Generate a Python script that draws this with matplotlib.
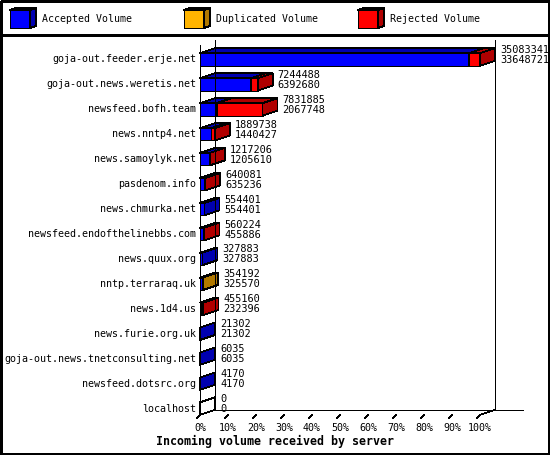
import matplotlib
matplotlib.use('Agg')
import matplotlib.pyplot as plt
from matplotlib.patches import Polygon, Rectangle

servers = ['goja-out.feeder.erje.net', 'goja-out.news.weretis.net', 'newsfeed.bofh.team',
           'news.nntp4.net', 'news.samoylyk.net', 'pasdenom.info', 'news.chmurka.net',
           'newsfeed.endofthelinebbs.com', 'news.quux.org', 'nntp.terraraq.uk', 'news.1d4.us',
           'news.furie.org.uk', 'goja-out.news.tnetconsulting.net', 'newsfeed.dotsrc.org', 'localhost']
offered = [35083341, 7244488, 7831885, 1889738, 1217206, 640081, 554401, 560224,
           327883, 354192, 455160, 21302, 6035, 4170, 0]
accepted = [33648721, 6392680, 2067748, 1440427, 1205610, 635236, 554401, 455886,
            327883, 325570, 232396, 21302, 6035, 4170, 0]
duplicated = [0, 0, 0, 0, 0, 0, 0, 0, 0, 28622, 0, 0, 0, 0, 0]
rejected = [o - a - d for o, a, d in zip(offered, accepted, duplicated)]

x_ticks = [0, 10, 20, 30, 40, 50, 60, 70, 80, 90, 100]
x_tick_labels = ['%d%%' % t for t in x_ticks]
legend_labels = ['Accepted Volume', 'Duplicated Volume', 'Rejected Volume']
x_title = 'Incoming volume received by server'

FRONT = ['#0000ff', '#ffb400', '#ff0000']
SIDE = ['#0000b0', '#b07800', '#b00000']

W, H = 550, 455
PX_PCT = 2.8      # pixels per percent
X0 = 200          # pixel x of 0%
PX_ROW = 24.93    # pixels per row
Y0 = 59.5         # pixel y of first row centre
DX = 15 / PX_PCT
DY = -5 / PX_ROW
HALF = 6.2 / PX_ROW
FONT = 'DejaVu Sans Mono'
LW = 0.5


def box(ax, x0, x1, y0, y1, dx, dy, face, side):
    front = [(x0, y1), (x0, y0), (x1, y0), (x1, y1)]
    top = [(x0, y0), (x0 + dx, y0 + dy), (x1 + dx, y0 + dy), (x1, y0)]
    right = [(x1, y0), (x1 + dx, y0 + dy), (x1 + dx, y1 + dy), (x1, y1)]
    for pts, c in ((front, face), (top, side), (right, side)):
        ax.add_patch(Polygon(pts, closed=True, fc=c, ec='black', lw=LW,
                             antialiased=False))


fig = plt.figure(figsize=(W / 100, H / 100), dpi=100)
fig.patch.set_facecolor('white')

ax = fig.add_axes([0, 0, 1, 1])
ax.set_xlim(-X0 / PX_PCT, (W - X0) / PX_PCT)
ax.set_ylim((H - Y0) / PX_ROW, -Y0 / PX_ROW)
ax.axis('off')

n = len(servers)
y_top = (45 - Y0) / PX_ROW
y_bot = (n - 1) + HALF
kw = dict(color='black', lw=LW, antialiased=False)
ax.plot([0, 0], [y_top, y_bot], **kw)
ax.plot([DX, DX], [y_top + DY, y_bot + DY], **kw)
ax.plot([100 + DX, 100 + DX], [y_top + DY, y_bot + DY], **kw)
ax.plot([DX, (523 - X0) / PX_PCT], [y_bot + DY, y_bot + DY], **kw)
ax.plot([0, DX], [y_bot, y_bot + DY], **kw)
ax.plot([100, 100 + DX], [y_bot, y_bot + DY], **kw)
for t, lab in zip(x_ticks, x_tick_labels):
    ax.plot([t - 3 / PX_PCT, t], [y_bot + 3 / PX_ROW, y_bot], **kw)
    ax.text(t, (428 - Y0) / PX_ROW, lab, ha='center', va='center',
            family=FONT, fontsize=7.2)

total_max = max(offered)
for i, name in enumerate(servers):
    ax.text(-4 / PX_PCT, i, name, ha='right', va='center', family=FONT, fontsize=7.2)
    start = 0.0
    drawn = False
    for k, vals in enumerate((accepted, duplicated, rejected)):
        v = vals[i] / total_max * 100
        if vals[i] > 0:
            box(ax, start, start + v, i - HALF, i + HALF, DX, DY, FRONT[k], SIDE[k])
            drawn = True
        start += v
    if not drawn:
        box(ax, 0, 0, i - HALF, i + HALF, DX, DY, 'white', 'white')
    tx = start + DX + 5 / PX_PCT
    ax.text(tx, i - 9.5 / PX_ROW, str(offered[i]), ha='left', va='center',
            family=FONT, fontsize=7.4)
    ax.text(tx, i + 0.5 / PX_ROW, str(accepted[i]), ha='left', va='center',
            family=FONT, fontsize=7.4)

# legend strip, frame and title in pixel space
lg = fig.add_axes([0, 0, 1, 1], facecolor='none')
lg.set_xlim(0, W)
lg.set_ylim(H, 0)
lg.axis('off')
lg.add_patch(Rectangle((0.5, 0.5), W - 1.5, H - 1.5, fill=False, ec='black', lw=1.0,
                       antialiased=False))
lg.plot([0, W], [35, 35], color='black', lw=1.0, antialiased=False)
for bx, lab, fc, sc in zip([10, 184, 358], legend_labels, FRONT, SIDE):
    box(lg, bx, bx + 20, 10, 28, 6, -2, fc, sc)
    lg.text(bx + 32, 19.5, lab, ha='left', va='center', family=FONT, fontsize=7.1)
lg.text(W / 2, 441, x_title, ha='center', va='center', family=FONT,
        fontsize=8.4, fontweight='bold')

fig.savefig('out.png', dpi=100)
